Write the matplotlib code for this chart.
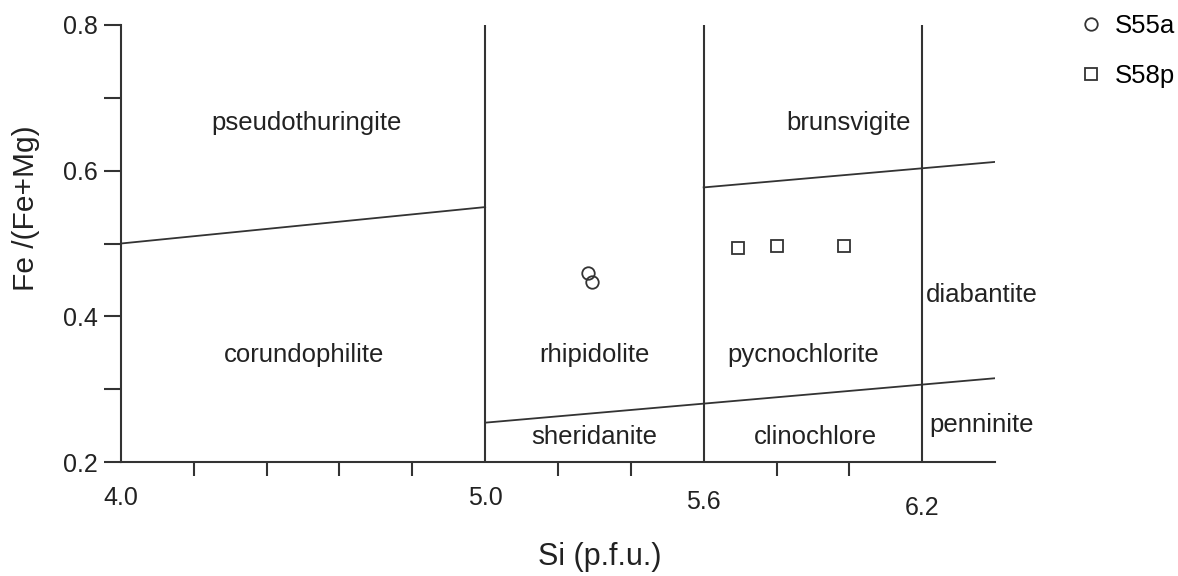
import matplotlib
matplotlib.use("Agg")
import matplotlib.pyplot as plt
import matplotlib.transforms as mtransforms

plt.rcParams['font.family'] = ['Liberation Sans', 'DejaVu Sans']

# ---- data ----
xlim = (4.0, 6.4)
ylim = (0.2, 0.8)
xtick_major = [4.0, 5.0, 5.6, 6.2]
xtick_labels = ["4.0", "5.0", "5.6", "6.2"]
xtick_minor = [4.2, 4.4, 4.6, 4.8, 5.0, 5.2, 5.4, 5.6, 5.8, 6.0, 6.2]
ytick_major = [0.2, 0.4, 0.6, 0.8]
ytick_labels = ["0.2", "0.4", "0.6", "0.8"]
ytick_minor = [0.3, 0.5, 0.7]

# boundary lines
vert_x = [5.0, 5.6, 6.2]
upper_left_x = [4.0, 5.0]
upper_left_y = [0.50, 0.55]
upper_right_x = [5.6, 6.4]
upper_right_y = [0.577, 0.612]
lower_x = [5.0, 6.4]
lower_y = [0.254, 0.315]

# samples
s55a_x = [5.282, 5.293]
s55a_y = [0.459, 0.447]
s58p_x = [5.693, 5.800, 5.986]
s58p_y = [0.494, 0.497, 0.497]

# field names
field_names = ["pseudothuringite", "brunsvigite", "corundophilite", "rhipidolite",
               "pycnochlorite", "diabantite", "sheridanite", "clinochlore", "penninite"]
field_x = [4.51, 5.997, 4.504, 5.299, 5.874, 6.364, 5.301, 5.907, 6.364]
field_y = [0.666, 0.666, 0.347, 0.347, 0.347, 0.429, 0.234, 0.234, 0.251]

col = '#333333'
tcol = '#222222'

fig = plt.figure(figsize=(11.78, 5.76), dpi=100)
ax = fig.add_axes([121/1178, (576-462)/576, (995-121)/1178, (462-25)/576])
ax.set_xlim(*xlim)
ax.set_ylim(*ylim)

for s in ['top', 'right']:
    ax.spines[s].set_visible(False)
for s in ['left', 'bottom']:
    ax.spines[s].set_color(col)
    ax.spines[s].set_linewidth(1.5)

ax.set_xticks(xtick_major)
ax.set_xticklabels(xtick_labels)
ax.set_xticks(xtick_minor, minor=True)
ax.tick_params(axis='x', which='major', length=0, pad=17, labelsize=18, labelcolor=tcol)
ax.tick_params(axis='x', which='minor', length=10, width=1.5, color=col, direction='out')

ax.set_yticks(ytick_major)
ax.set_yticklabels(ytick_labels)
ax.set_yticks(ytick_minor, minor=True)
ax.tick_params(axis='y', which='major', length=12, width=1.5, pad=5, labelsize=18,
               color=col, labelcolor=tcol)
ax.tick_params(axis='y', which='minor', length=12, width=1.5, color=col)

labs = ax.get_xticklabels()
labs[2].set_transform(labs[2].get_transform() + mtransforms.ScaledTranslation(0, -4/100, fig.dpi_scale_trans))
labs[3].set_transform(labs[3].get_transform() + mtransforms.ScaledTranslation(0, -10/100, fig.dpi_scale_trans))

# boundaries
for xv in vert_x:
    ax.plot([xv, xv], [ylim[0], ylim[1]], color=col, lw=1.5)
ax.plot(upper_left_x, upper_left_y, color=col, lw=1.3)
ax.plot(upper_right_x, upper_right_y, color=col, lw=1.3)
ax.plot(lower_x, lower_y, color=col, lw=1.3)

# samples
ax.plot(s55a_x, s55a_y, 'o', ms=9, mfc='none', mec=col, mew=1.3, label='S55a', clip_on=False)
ax.plot(s58p_x, s58p_y, 's', ms=9, mfc='none', mec=col, mew=1.3, label='S58p', clip_on=False)

for name, fx, fy in zip(field_names, field_x, field_y):
    ax.text(fx, fy, name, ha='center', va='center', fontsize=18.5, color=tcol)

ax.set_xlabel('Si (p.f.u.)', fontsize=22, color=tcol, va='center')
ax.xaxis.set_label_coords(600/1178, 1 - 557/576, transform=fig.transFigure)
ax.set_ylabel('Fe /(Fe+Mg)', fontsize=21.5, color=tcol, va='center')
ax.yaxis.set_label_coords(26/1178, 1 - 208/576, transform=fig.transFigure)

fig.legend(loc='upper left', bbox_to_anchor=(1081/1178, 1 - 14/576), frameon=False,
           fontsize=18.5, handlelength=0.8, handletextpad=0.5, labelspacing=1.0,
           borderaxespad=0, borderpad=0.0)

fig.savefig('out.png', dpi=100, facecolor='white')
